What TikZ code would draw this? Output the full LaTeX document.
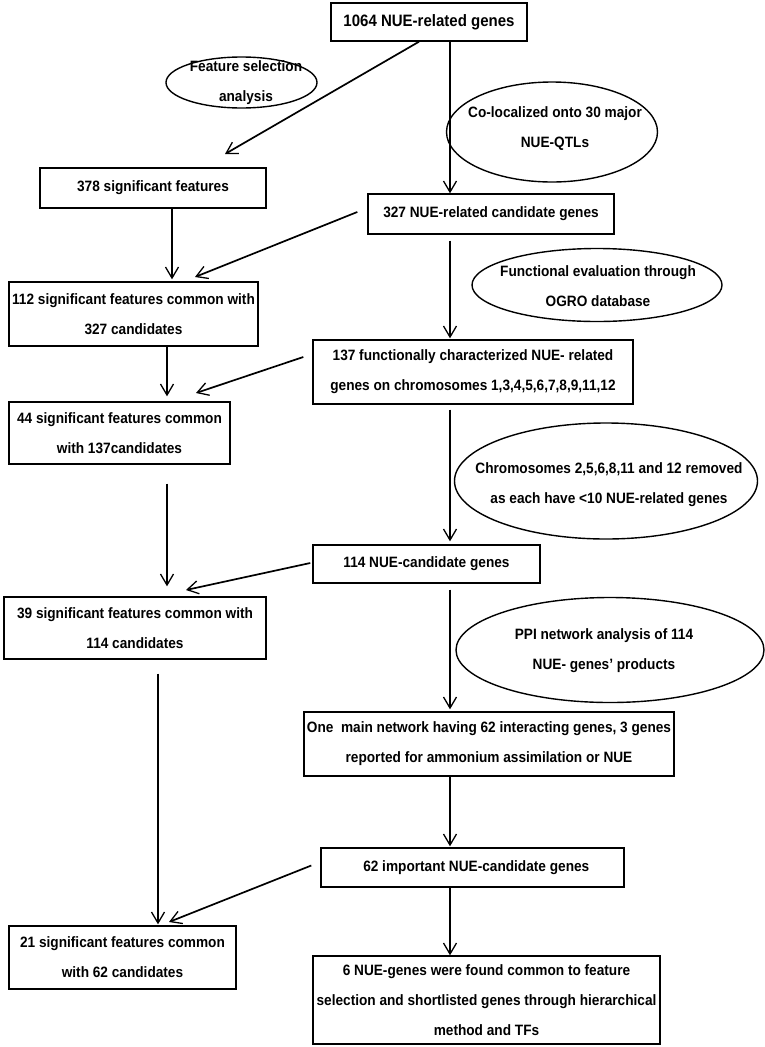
\documentclass[tikz,border=0pt]{standalone}
\usepackage{fontspec}
\setmainfont{Liberation Sans}[FakeStretch=0.91]
\usetikzlibrary{arrows.meta,shapes.geometric,calc}
\begin{document}
\begin{tikzpicture}[x=1pt,y=-1pt,
  txt/.style={align=center, font=\fontsize{15}{30}\selectfont\bfseries},
  box/.style={draw, line width=1.4pt, rectangle, inner sep=0pt, txt},
  oval/.style={draw, line width=1.4pt, ellipse, inner sep=0pt},
  arr/.style={-{Straight Barb[length=11pt,width=13pt,line width=1.3pt]}, line width=1.3pt},
  darr/.style={arr, line width=1.7pt}]
\useasboundingbox[fill=white] (0,0) rectangle (765,1047);
% column coordinates
\coordinate (cx) at (450,0);
\coordinate (cl1) at (172,0);
\coordinate (cl2) at (167,0);
\coordinate (cl3) at (158,0);
% boxes
\node[box, minimum width=196pt, minimum height=38pt, font=\fontsize{16.5}{30}\selectfont\bfseries] (n1064) at (429,22) {1064 NUE-related genes};
\node[box, minimum width=226pt, minimum height=40pt] (n378) at (153,188) {378 significant features};
\node[box, minimum width=246pt, minimum height=40pt] (n327) at (491,214) {327 NUE-related candidate genes};
\node[box, minimum width=249pt, minimum height=64pt] (n112) at (133.5,314) {112 significant features common with\\327 candidates};
\node[box, minimum width=320pt, minimum height=64pt] (n137) at (473,372) {137 functionally characterized NUE- related\\genes on chromosomes 1,3,4,5,6,7,8,9,11,12};
\node[box, minimum width=221pt, minimum height=62pt] (n44) at (119.5,433) {44 significant features common\\with 137candidates};
\node[box, minimum width=227pt, minimum height=38pt] (n114) at (426.5,564) {114 NUE-candidate genes};
\node[box, minimum width=262pt, minimum height=62pt] (n39) at (135,628) {39 significant features common with\\114 candidates};
\node[box, minimum width=370pt, minimum height=64pt] (nmain) at (489,744) {One~ main network having 62 interacting genes, 3 genes\\reported for ammonium assimilation or NUE};
\node[box, minimum width=303pt, minimum height=39pt] (n62) at (472.5,867.5) {~~62 important NUE-candidate genes};
\node[box, minimum width=227pt, minimum height=63pt] (n21) at (122.5,957.5) {21 significant features common\\with 62 candidates};
\node[box, minimum width=347pt, minimum height=88pt] (n6) at (486.5,1000) {6 NUE-genes were found common to feature\\selection and shortlisted genes through hierarchical\\method and TFs};
% ellipses
\node[oval, minimum width=151pt, minimum height=51pt] (fs) at (241.5,82.5) {};
\node[txt] (fst) at (246,83) {Feature selection\\analysis};
\node[oval, minimum width=211pt, minimum height=100pt] (co) at (552,132) {};
\node[txt] (cot) at (555,128.5) {Co-localized onto 30 major\\NUE-QTLs};
\node[oval, minimum width=250pt, minimum height=73pt] (fe) at (597,285) {};
\node[txt] (fet) at (598,286) {Functional evaluation through\\OGRO database};
\node[oval, minimum width=303pt, minimum height=116pt] (chr) at (606,481) {};
\node[txt] (chrt) at (609,484.5) {Chromosomes 2,5,6,8,11 and 12 removed\\as each have <10 NUE-related genes};
\node[oval, minimum width=308pt, minimum height=105pt] (ppi) at (610,650) {};
\node[txt] (ppit) at (604,651) {PPI network analysis of 114\\NUE- genes’ products};
% free ends of the slanted arrows
\coordinate (t1) at (225,154);
\coordinate (t2) at (195,277);
\coordinate (t3) at (196,393);
\coordinate (t4) at (186,590);
\coordinate (t5) at (169,922);
% connectors
\draw[darr] ([xshift=-10pt]n1064.south) -- (t1);
\draw[arr] (n1064.south -| cx) -- (n327.north -| cx);
\draw[arr, shorten >=2pt] (n378.south -| cl1) -- (n112.north -| cl1);
\draw[darr] ([shift={(-10,-2)}]n327.west) -- (t2);
\draw[arr, shorten <=6pt, shorten >=1pt] (n327.south -| cx) -- (n137.north -| cx);
\draw[arr, shorten >=5pt] (n112.south -| cl2) -- (n44.north -| cl2);
\draw[darr] ([shift={(-9,-15)}]n137.west) -- (t3);
\draw[arr, shorten <=5pt, shorten >=3pt] (n137.south -| cx) -- (n114.north -| cx);
\draw[arr, shorten <=19pt, shorten >=10pt] (n44.south -| cl2) -- (n39.north -| cl2);
\draw[darr] ([shift={(-2,-1)}]n114.west) -- (t4);
\draw[arr, shorten <=6pt, shorten >=2pt] (n114.south -| cx) -- (nmain.north -| cx);
\draw[arr, shorten <=14pt, shorten >=1pt] (n39.south -| cl3) -- (n21.north -| cl3);
\draw[arr, shorten >=1pt] (nmain.south -| cx) -- (n62.north -| cx);
\draw[darr] ([shift={(-9,-2)}]n62.west) -- (t5);
\draw[arr] (n62.south -| cx) -- (n6.north -| cx);
\end{tikzpicture}
\end{document}
